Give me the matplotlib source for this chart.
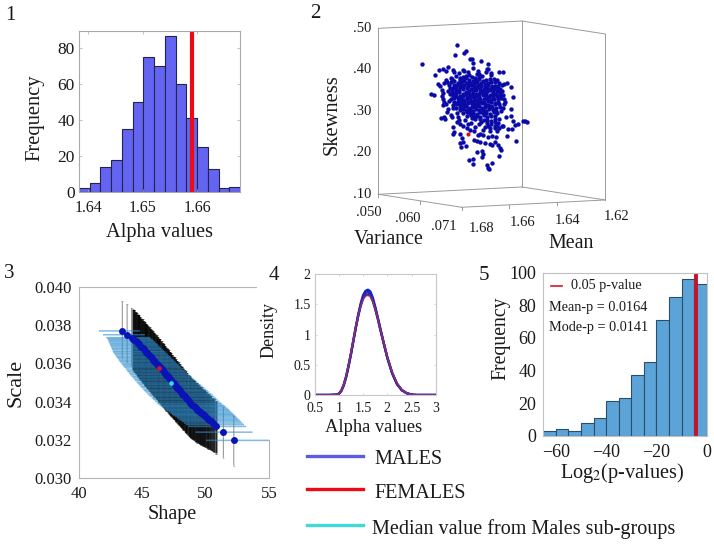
import numpy as np
import matplotlib
matplotlib.use("Agg")
import matplotlib.pyplot as plt

plt.rcParams['font.family'] = ['Liberation Serif', 'DejaVu Serif']
plt.rcParams['mathtext.fontset'] = 'stix'
W, H = 714, 544
TXT = '#1a1a1a'; GREY = '#a8a8a8'

# ---------- panel 1
alpha_counts = [2, 5, 14, 18, 35, 50, 75, 70, 87, 60, 41, 25, 13, 2, 3]
alpha_range = (1.6383, 1.6679)
alpha_female = 1.6591
alpha_xticks = [1.64, 1.65, 1.66]
alpha_yticks = [0, 20, 40, 60, 80]

# ---------- panel 2: (mean, skewness) of each subgroup as seen along the projected box
cloud_points = [
 (1.6782,.4149),(1.6637,.4598),(1.6644,.4365),(1.6609,.4397),(1.6600,.4462),(1.6581,.4269),(1.6576,.4253),
 (1.6537,.4213),(1.6506,.4149),(1.6730,.3876),(1.6711,.3988),(1.6694,.4020),(1.6673,.4060),(1.6684,.3964),
 (1.6652,.3996),(1.6650,.3956),(1.6613,.3996),(1.6606,.3980),(1.6569,.4157),(1.6569,.4036),(1.6551,.3964),
 (1.6552,.3899),(1.6513,.4011),(1.6506,.4027),(1.6517,.3956),(1.6462,.3956),(1.6445,.3939),(1.6483,.3771),
 (1.6501,.3787),(1.6427,.3690),(1.6441,.3658),(1.6451,.3634),(1.6465,.3610),(1.6471,.3578),(1.6466,.3514),
 (1.6413,.3578),(1.6405,.3337),(1.6437,.3233),(1.6458,.3112),(1.6444,.3072),(1.6413,.3048),(1.6434,.2871),
 (1.6413,.2895),(1.6402,.2758),(1.6363,.2766),(1.6354,.2758),(1.6346,.2742),(1.6395,.2678),(1.6382,.2686),
 (1.6409,.2566),(1.6423,.2566),(1.6427,.2405),(1.6392,.2277),(1.6451,.2654),(1.6444,.2646),(1.6471,.2670),
 (1.6480,.2646),(1.6587,.1827),(1.6569,.1851),(1.6572,.1723),(1.6513,.1707),(1.6492,.1747),(1.6509,.1634),
 (1.6505,.1618),(1.6552,.2012),(1.6531,.2052),(1.6530,.1964),(1.6533,.1907),(1.6460,.1923),(1.6453,.2060),
 (1.6464,.2180),(1.6458,.2108),(1.6492,.2180),(1.6499,.2212),(1.6520,.2245),(1.6541,.2269),(1.6566,.2309),
 (1.6555,.2277),(1.6478,.2269),(1.6474,.2389),(1.6492,.2405),(1.6506,.2389),(1.6527,.2429),(1.6541,.2453),
 (1.6548,.2429),(1.6620,.2132),(1.6600,.2172),(1.6613,.2269),(1.6624,.2229),(1.6615,.2365),(1.6624,.2453),
 (1.6648,.2510),(1.6652,.2445),(1.6654,.2630),(1.6639,.2751),(1.6627,.2791),(1.6624,.2694),(1.6597,.2590),
 (1.6583,.2550),(1.6566,.2526),(1.6744,.3409),(1.6733,.3393),(1.6715,.3650),(1.6708,.3610),(1.6700,.3514),
 (1.6692,.3675),(1.6683,.3755),(1.6677,.3715),(1.6694,.3433),(1.6701,.3369),(1.6694,.3289),(1.6690,.3233),
 (1.6697,.3153),(1.6683,.3177),(1.6673,.3065),(1.6680,.2993),(1.6691,.2871),(1.6703,.2831),(1.6687,.2807),
 (1.6664,.2911),(1.6658,.2855),(1.6639,.2951),
 (1.6640,.3860),(1.6612,.3835),(1.6587,.3880),(1.6561,.3810),(1.6533,.3845),(1.6496,.3865),
 (1.6656,.3785),(1.6624,.3760),(1.6599,.3795),(1.6571,.3740),(1.6545,.3780),(1.6516,.3750),(1.6478,.3700),
 (1.6663,.3700),(1.6633,.3690),(1.6606,.3720),(1.6582,.3675),(1.6553,.3705),(1.6521,.3665),(1.6493,.3705),(1.6462,.3680),
 (1.6650,.3625),(1.6621,.3650),(1.6592,.3610),(1.6566,.3640),(1.6536,.3600),(1.6506,.3635),(1.6479,.3600),
 (1.6667,.3565),(1.6641,.3560),(1.6611,.3585),(1.6579,.3545),(1.6554,.3575),(1.6524,.3535),(1.6497,.3560),(1.6456,.3545),
 (1.6656,.3490),(1.6628,.3510),(1.6600,.3475),(1.6571,.3505),(1.6543,.3470),(1.6513,.3500),(1.6485,.3465),(1.6448,.3480),
 (1.6668,.3425),(1.6640,.3440),(1.6614,.3410),(1.6587,.3445),(1.6558,.3415),(1.6530,.3435),(1.6501,.3400),(1.6473,.3425),
 (1.6652,.3360),(1.6626,.3375),(1.6597,.3345),(1.6570,.3380),(1.6544,.3350),(1.6516,.3370),(1.6487,.3335),(1.6457,.3360),
 (1.6661,.3290),(1.6634,.3310),(1.6607,.3280),(1.6582,.3315),(1.6553,.3285),(1.6524,.3305),(1.6494,.3270),(1.6466,.3295),(1.6440,.3300),
 (1.6648,.3230),(1.6620,.3245),(1.6592,.3215),(1.6566,.3250),(1.6537,.3220),(1.6509,.3240),(1.6479,.3205),
 (1.6655,.3150),(1.6630,.3170),(1.6603,.3145),(1.6576,.3180),(1.6548,.3150),(1.6520,.3175),(1.6493,.3140),(1.6463,.3165),
 (1.6640,.3090),(1.6614,.3110),(1.6586,.3075),(1.6560,.3110),(1.6533,.3085),(1.6504,.3100),(1.6476,.3070),
 (1.6625,.3020),(1.6598,.3040),(1.6570,.3010),(1.6544,.3035),(1.6517,.3005),(1.6488,.3025),(1.6455,.3010),
 (1.6610,.2950),(1.6583,.2965),(1.6555,.2935),(1.6528,.2960),(1.6498,.2945),(1.6468,.2955),
 (1.6595,.2880),(1.6566,.2895),(1.6540,.2870),(1.6510,.2860),(1.6480,.2885),
 (1.6605,.2800),(1.6560,.2810),(1.6525,.2790),(1.6495,.2775),(1.6462,.2815),
 (1.6578,.2730),(1.6545,.2700),(1.6510,.2715),(1.6478,.2740),(1.6520,.2625),(1.6498,.2600),(1.6463,.2590),
]
cloud_points_center = [
 (1.6625,.3810),(1.6600,.3860),(1.6575,.3825),(1.6547,.3820),(1.6612,.3770),(1.6585,.3745),(1.6558,.3750),(1.6530,.3725),
 (1.6648,.3720),(1.6620,.3705),(1.6594,.3690),(1.6567,.3695),(1.6538,.3675),(1.6507,.3690),(1.6635,.3625),(1.6606,.3645),
 (1.6578,.3625),(1.6551,.3645),(1.6521,.3610),(1.6492,.3620),(1.6654,.3570),(1.6626,.3595),(1.6595,.3555),(1.6567,.3585),
 (1.6539,.3545),(1.6510,.3570),(1.6482,.3540),(1.6642,.3505),(1.6614,.3530),(1.6586,.3490),(1.6557,.3525),(1.6528,.3490),
 (1.6499,.3515),(1.6470,.3480),(1.6653,.3445),(1.6627,.3460),(1.6600,.3425),(1.6572,.3450),(1.6544,.3420),(1.6515,.3445),
 (1.6487,.3410),(1.6458,.3430),(1.6640,.3380),(1.6612,.3360),(1.6584,.3395),(1.6557,.3365),(1.6530,.3385),(1.6502,.3350),
 (1.6472,.3375),(1.6648,.3310),(1.6620,.3325),(1.6594,.3300),(1.6568,.3330),(1.6539,.3300),(1.6510,.3320),(1.6481,.3290),
 (1.6452,.3310),(1.6634,.3250),(1.6606,.3225),(1.6580,.3255),(1.6551,.3230),(1.6523,.3255),(1.6494,.3215),(1.6465,.3235),
 (1.6642,.3185),(1.6616,.3165),(1.6590,.3190),(1.6562,.3165),(1.6534,.3190),(1.6506,.3155),(1.6478,.3180),(1.6625,.3105),
 (1.6600,.3125),(1.6573,.3095),(1.6546,.3125),(1.6519,.3095),(1.6490,.3115),(1.6612,.3045),(1.6584,.3020),(1.6557,.3050),
 (1.6530,.3020),(1.6503,.3045),(1.6474,.3015),(1.6596,.2985),(1.6570,.2955),(1.6542,.2985),(1.6514,.2950),(1.6484,.2975),
 (1.6580,.2905),(1.6553,.2880),(1.6526,.2905),(1.6495,.2880),(1.6575,.2835),(1.6542,.2820),(1.6510,.2790),(1.6478,.2810),
 (1.6535,.2745),(1.6495,.2700),(1.6465,.2720),(1.6508,.2640),(1.6478,.2600),(1.6530,.2560),(1.6500,.2520),(1.6470,.2520),
 (1.6590,.2700),(1.6560,.2620),(1.6610,.2640),(1.6632,.2870),(1.6655,.3080),(1.6670,.3240),(1.6675,.3500),(1.6670,.3640),
 (1.6630,.3930),(1.6590,.3950),(1.6545,.3900),(1.6495,.3920),(1.6660,.3800),(1.6470,.3760),(1.6445,.3400),(1.6440,.3180),
]
female_point = (1.6590, .2445)
skew_ticks = [.10, .20, .30, .40, .50]
skew_labels = ['.10', '.20', '.30', '.40', '.50']
var_ticks = [.050, .0605, .071]
var_labels = ['.050', '.060', '.071']
mean_ticks = [1.68, 1.66, 1.64, 1.62]
mean_labels = ['1.68', '1.66', '1.64', '1.62']

# ---------- panel 3: shape, scale, scale err down, scale err up, shape err left, shape err right
fit_rows = [
 (43.42,.03770,.00140,.00155,1.85,1.40),(43.80,.03750,.00145,.00160,1.90,1.40),(44.15,.03735,.00150,.00155,2.00,1.45),
 (44.30,.03730,.00165,.00152,2.05,1.40),(44.38,.03724,.00170,.00155,2.10,1.45),(44.47,.03718,.00168,.00150,2.15,1.42),
 (44.55,.03712,.00172,.00153,2.20,1.46),(44.66,.03705,.00175,.00150,2.25,1.44),(44.74,.03699,.00173,.00155,2.30,1.48),
 (44.83,.03693,.00178,.00150,2.35,1.45),(44.92,.03686,.00175,.00148,2.40,1.50),(45.02,.03679,.00180,.00152,2.45,1.48),
 (45.10,.03673,.00178,.00149,2.50,1.52),(45.21,.03665,.00182,.00151,2.55,1.50),(45.29,.03660,.00180,.00148,2.60,1.55),
 (45.38,.03653,.00183,.00150,2.62,1.52),(45.47,.03647,.00181,.00147,2.65,1.56),(45.58,.03639,.00185,.00150,2.68,1.55),
 (45.66,.03633,.00183,.00148,2.70,1.58),(45.75,.03627,.00186,.00146,2.72,1.56),(45.86,.03619,.00184,.00149,2.75,1.60),
 (45.94,.03613,.00187,.00147,2.76,1.58),(46.03,.03607,.00185,.00145,2.78,1.62),(46.14,.03599,.00188,.00148,2.80,1.60),
 (46.22,.03593,.00186,.00146,2.80,1.65),(46.31,.03586,.00189,.00144,2.82,1.63),(46.40,.03580,.00187,.00147,2.82,1.68),
 (46.52,.03571,.00190,.00145,2.84,1.66),(46.61,.03563,.00188,.00143,2.84,1.70),(46.70,.03556,.00190,.00146,2.85,1.72),
 (46.80,.03548,.00188,.00144,2.85,1.75),(46.89,.03541,.00190,.00142,2.86,1.78),(47.00,.03533,.00187,.00145,2.86,1.80),
 (47.09,.03526,.00189,.00143,2.86,1.84),(47.18,.03518,.00186,.00141,2.85,1.88),(47.27,.03511,.00188,.00144,2.85,1.92),
 (47.38,.03502,.00185,.00142,2.84,1.96),(47.47,.03495,.00187,.00140,2.84,2.00),(47.56,.03488,.00184,.00143,2.83,2.05),
 (47.66,.03480,.00186,.00141,2.82,2.10),(47.75,.03473,.00183,.00139,2.82,2.14),(47.86,.03464,.00185,.00142,2.80,2.18),
 (47.95,.03457,.00182,.00140,2.80,2.22),(48.04,.03450,.00184,.00138,2.78,2.26),(48.15,.03441,.00181,.00141,2.76,2.30),
 (48.24,.03434,.00183,.00139,2.75,2.32),(48.33,.03427,.00180,.00137,2.72,2.35),(48.44,.03418,.00182,.00140,2.70,2.38),
 (48.53,.03411,.00179,.00138,2.68,2.40),(48.65,.03402,.00181,.00136,2.66,2.42),(48.76,.03393,.00178,.00139,2.64,2.44),
 (48.85,.03388,.00180,.00137,2.62,2.45),(48.96,.03381,.00177,.00135,2.60,2.46),(49.05,.03376,.00178,.00138,2.58,2.47),
 (49.14,.03371,.00175,.00136,2.56,2.48),(49.26,.03364,.00176,.00134,2.55,2.48),(49.35,.03358,.00173,.00137,2.52,2.48),
 (49.44,.03353,.00172,.00135,2.50,2.48),(49.55,.03346,.00170,.00133,2.48,2.47),(49.66,.03340,.00168,.00136,2.45,2.46),
 (49.75,.03334,.00165,.00134,2.42,2.45),(49.84,.03329,.00163,.00132,2.40,2.44),(49.95,.03323,.00160,.00135,2.38,2.43),
 (50.07,.03316,.00158,.00133,2.35,2.42),(50.18,.03309,.00155,.00131,2.32,2.40),(50.29,.03303,.00152,.00134,2.30,2.40),
 (50.41,.03296,.00150,.00132,2.28,2.38),(50.55,.03288,.00148,.00130,2.26,2.36),(50.68,.03280,.00145,.00133,2.24,2.35),
 (50.85,.03270,.00142,.00131,2.22,2.35),(51.40,.03240,.00134,.00130,2.20,2.30),(52.22,.03197,.00133,.00130,2.20,2.78),
]
female_fit = (46.35, .03578)
median_fit = (47.30, .03497)
shape_ticks = [40, 45, 50, 55]
scale_ticks = [.030, .032, .034, .036, .038, .040]

# ---------- panel 4
density_x = [.5, .8, .95, 1.0, 1.05, 1.1, 1.15, 1.2, 1.25, 1.3, 1.35, 1.4, 1.45, 1.5, 1.55, 1.6, 1.65, 1.7, 1.75, 1.8, 1.85, 1.9, 1.95, 2.0, 2.1, 2.2, 2.3, 2.4, 2.5, 2.6, 3.0]
male_high = [0, 0, .005, .02, .07, .16, .30, .48, .68, .90, 1.12, 1.33, 1.51, 1.65, 1.72, 1.74, 1.71, 1.61, 1.46, 1.29, 1.12, .95, .78, .62, .36, .18, .08, .03, .006, 0, 0]
male_mid = [0, 0, .005, .02, .07, .16, .30, .48, .68, .90, 1.12, 1.32, 1.49, 1.62, 1.69, 1.70, 1.67, 1.58, 1.44, 1.28, 1.11, .94, .78, .62, .36, .18, .08, .03, .006, 0, 0]
male_low = [0, 0, .005, .02, .07, .17, .31, .49, .69, .91, 1.12, 1.31, 1.47, 1.59, 1.65, 1.66, 1.64, 1.55, 1.42, 1.27, 1.10, .94, .78, .62, .37, .19, .08, .03, .006, 0, 0]
female_density = [0, 0, .005, .02, .07, .17, .31, .50, .70, .92, 1.13, 1.32, 1.47, 1.58, 1.63, 1.64, 1.62, 1.54, 1.42, 1.27, 1.11, .95, .79, .63, .38, .20, .09, .03, .007, 0, 0]
density_xticks = [.5, 1, 1.5, 2, 2.5, 3]
density_xlabels = ['0.5', '1', '1.5', '2', '2.5', '3']
density_yticks = [0, .5, 1, 1.5, 2]
density_ylabels = ['0', '0.5', '1', '1.5', '2']

# ---------- panel 5
pvalue_counts = [3, 4, 3, 8, 11, 21, 23, 37, 45, 71, 85, 96, 93]
pvalue_range = (-65, 0)
pvalue_cut = -4.4
pvalue_xticks = [-60, -40, -20, 0]
pvalue_yticks = [0, 20, 40, 60, 80, 100]


def px_axes(l, t, r, b):
    return fig.add_axes([l / W, 1 - b / H, (r - l) / W, (b - t) / H])


def label(x, y, s, size, **kw):
    kw.setdefault('ha', 'center'); kw.setdefault('va', 'center')
    fig.text(x / W, 1 - y / H, s, fontsize=size, color=TXT, **kw)


def style(ax, size, color=GREY):
    for sp in ax.spines.values():
        sp.set_color(color); sp.set_linewidth(.8)
    ax.tick_params(direction='in', length=2, width=.5, color=color, labelsize=size, labelcolor=TXT, pad=3)


fig = plt.figure(figsize=(W / 100, H / 100), dpi=100)

# Panel 1
ax = px_axes(79, 30.5, 240, 192)
edges = np.linspace(alpha_range[0], alpha_range[1], len(alpha_counts) + 1)
ax.bar(edges[:-1], alpha_counts, width=np.diff(edges), align='edge', color='#6464f2', edgecolor='#24244a', linewidth=.8)
ax.axvline(alpha_female, color='#ee0a14', lw=3)
ax.set_xlim(alpha_range); ax.set_ylim(0, 90)
ax.set_xticks(alpha_xticks); ax.set_yticks(alpha_yticks)
style(ax, 12.5); ax.tick_params(top=True, right=True); ax.tick_params(axis='x', labelsize=11.5, pad=6)
label(159, 233, 'Alpha values', 14.7)
label(35, 118, 'Frequency', 14.8, rotation=90)
label(10, 15, '1', 15)

# Panel 2: hand-built box projection on flat axes
VAR0, VAR1 = .050, .071
ME0, ME1 = 1.68, 1.62


def project(var, mean, skew):
    u = (var - VAR0) / (VAR1 - VAR0)
    w = (ME0 - mean) / (ME0 - ME1)
    return mean - 1.657 * (var - .060), skew - .0313 * u + .01767 * w


ax = px_axes(378.3, 16.7, 605.3, 213.3)
ax.set_xlim(1.69657, 1.60176); ax.set_ylim(.0542, .5281)
ax.axis('off')
box = [((VAR0, ME0, .1), (VAR0, ME0, .5)), ((VAR0, ME0, .5), (VAR0, ME1, .5)), ((VAR0, ME1, .5), (VAR1, ME1, .5)),
       ((VAR1, ME1, .5), (VAR1, ME1, .1)), ((VAR0, ME1, .5), (VAR0, ME1, .1)), ((VAR0, ME0, .1), (VAR0, ME1, .1)),
       ((VAR0, ME1, .1), (VAR1, ME1, .1)), ((VAR0, ME0, .1), (VAR1, ME0, .1)), ((VAR1, ME0, .1), (VAR1, ME1, .1))]
for a, b in box:
    p, q = project(*a), project(*b)
    ax.plot([p[0], q[0]], [p[1], q[1]], color='#9a9a9a', lw=.7, clip_on=False)
for v in var_ticks:
    p = project(v, ME0, .1)
    ax.plot([p[0], p[0]], [p[1], p[1] - .007], color='#9a9a9a', lw=.7)
for m in mean_ticks:
    p = project(VAR1, m, .1)
    ax.plot([p[0], p[0]], [p[1], p[1] - .007], color='#9a9a9a', lw=.7)
for s in skew_ticks:
    p = project(VAR0, ME0, s)
    ax.plot([p[0], p[0] + .0008], [p[1], p[1]], color='#9a9a9a', lw=.7)
cloud = np.array(cloud_points + cloud_points_center)
ax.scatter(cloud[:, 0], cloud[:, 1], s=10, color='#0a0aa8', linewidths=0, zorder=3)
ax.scatter(*female_point, s=9, color='#c81428', linewidths=0, zorder=4)
for s, t in zip(skew_ticks, skew_labels):
    label(371, 194.3 - (s - .1) * 415, t, 10.5, ha='right')
for (x, y), t in zip([(369, 213), (408, 218), (444, 226)], var_labels):
    label(x, y, t, 10.5)
for (x, y), t in zip([(482, 228), (523, 223), (568, 220), (617, 217)], mean_labels):
    label(x, y, t, 10.5)
label(332, 115, 'Skewness', 14.8, rotation=90)
label(389, 240, 'Variance', 14.4)
label(571, 243, 'Mean', 14.4)
label(315, 13, '2', 15)

# Panel 3
fit = np.array(fit_rows)
dense = fit[3:-2]
sparse = np.vstack([fit[:3], fit[-2:]])
ax = px_axes(79, 287, 269, 478)
groups = [
    ax.errorbar(sparse[:, 0], sparse[:, 1], yerr=[sparse[:, 2], sparse[:, 3]], fmt='none', ecolor='#000000', elinewidth=.8, alpha=.4, capsize=1, capthick=.4, zorder=2),
    ax.errorbar(dense[:, 0], dense[:, 1], yerr=[dense[:, 2], dense[:, 3]], fmt='none', ecolor='#000000', elinewidth=1.5, alpha=.85, capsize=1, capthick=.4, zorder=2),
    ax.errorbar(fit[:, 0], fit[:, 1], xerr=[fit[:, 4], fit[:, 5]], fmt='none', ecolor='#2f8fd0', elinewidth=1.1, alpha=.6, capsize=0, zorder=3),
]
for group in groups:
    for coll in group.lines[2]:
        coll.set_snap(False)
ax.plot(fit[:, 0], fit[:, 1], 'o', color='#0a14b4', ms=5, mew=0, zorder=4)
ax.plot(*female_fit, 'o', color='#d8142a', ms=3.4, mew=0, zorder=5)
ax.plot(*median_fit, 'o', color='#38d8e0', ms=3.4, mew=0, zorder=5)
ax.set_xlim(40, 55); ax.set_ylim(.030, .040)
ax.set_xticks(shape_ticks); ax.set_yticks(scale_ticks)
ax.set_yticklabels([f'{v:.3f}' for v in scale_ticks])
style(ax, 12, '#b4b4b4')
ax.tick_params(length=0, pad=5); ax.tick_params(axis='x', pad=6)
ax.spines['top'].set_bounds(40, 54); ax.spines['right'].set_bounds(.030, .032)
label(16, 383, 'Scale', 16, rotation=90)
label(172, 514, 'Shape', 14.5)
label(9, 273, '3', 15)

# Panel 4
ax = px_axes(314.7, 274, 435.7, 395)
for curve, c in [(male_high, '#0a20d8'), (male_mid, '#2424b0'), (male_low, '#3a2aa8')]:
    ax.plot(density_x, curve, color=c, lw=1.7)
ax.plot(density_x, female_density, color='#e03030', lw=1.0, alpha=.55)
ax.set_xlim(.5, 3); ax.set_ylim(0, 2)
ax.set_xticks(density_xticks); ax.set_xticklabels(density_xlabels)
ax.set_yticks(density_yticks); ax.set_yticklabels(density_ylabels)
style(ax, 10, '#c8c8c8'); ax.tick_params(length=1.5, top=True, right=True)
ax.tick_params(axis='x', pad=5)
label(374, 428, 'Alpha values', 13.3)
label(269, 330, 'Density', 13, rotation=90)
label(274, 276, '4', 15)

# Legend
legend_rows = [('MALES', '#5c5ce0', 456, 374, 460), ('FEMALES', '#ee0a14', 489, 374, 493),
               ('Median value from Males sub-groups', '#40d8d8', 525, 372, 529)]
for name, col, ly, tx, ty in legend_rows:
    fig.add_artist(plt.Line2D([306.7 / W, 362.7 / W], [1 - ly / H, 1 - ly / H], color=col, lw=2.4))
    label(tx, ty, name, 14.5, ha='left')

# Panel 5
ax = px_axes(543.3, 272.7, 706.7, 435.7)
edges = np.linspace(pvalue_range[0], pvalue_range[1], len(pvalue_counts) + 1)
ax.bar(edges[:-1], pvalue_counts, width=np.diff(edges), align='edge', color='#5ca4d8', edgecolor='#28506e', linewidth=.8)
ax.axvline(pvalue_cut, color='#c4142a', lw=2.8)
ax.set_xlim(pvalue_range); ax.set_ylim(0, 100)
ax.set_xticks(pvalue_xticks); ax.set_yticks(pvalue_yticks)
style(ax, 13, '#c0c0c0'); ax.tick_params(length=0, pad=5); ax.tick_params(axis='x', pad=6)
fig.add_artist(plt.Line2D([551 / W, 561.7 / W], [1 - 286 / H, 1 - 286 / H], color='#d81428', lw=1.2))
label(571, 286, '0.05 p-value', 10.3, ha='left')
label(549, 308, 'Mean-p = 0.0164', 10.3, ha='left')
label(549, 327.7, 'Mode-p = 0.0141', 10.3, ha='left')
label(501, 338, 'Frequency', 14.2, rotation=90)
label(621.7, 473, 'Log$_2$(p-values)', 14.6)
label(484, 276, '5', 15)

fig.savefig('out.png', dpi=100)
